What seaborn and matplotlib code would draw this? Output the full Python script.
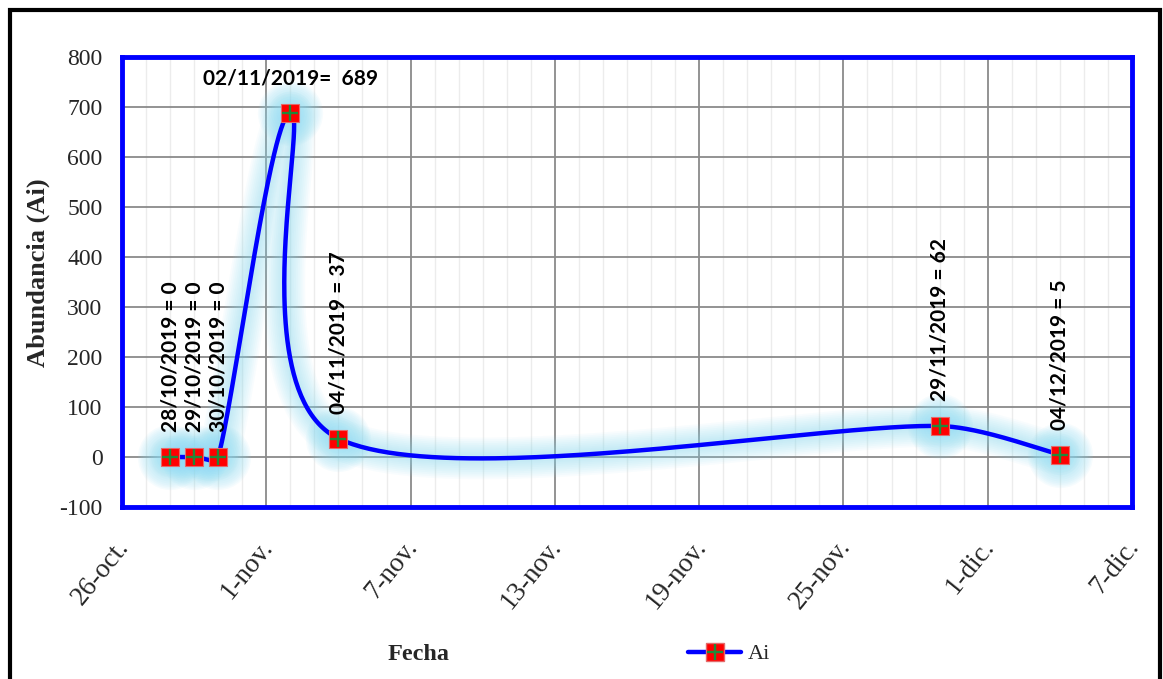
import numpy as np
import pandas as pd
import matplotlib
matplotlib.use("Agg")
import matplotlib.pyplot as plt
import matplotlib.dates as mdates
import matplotlib.transforms as mtrans
from matplotlib.patches import Rectangle
from matplotlib.lines import Line2D
from matplotlib.ticker import FixedLocator, MultipleLocator
import seaborn as sns

# ---------------- data ----------------
fechas = ["2019-10-28", "2019-10-29", "2019-10-30", "2019-11-02",
          "2019-11-04", "2019-11-29", "2019-12-04"]
ai = [0, 0, 0, 689, 37, 62, 5]
etiquetas = ["28/10/2019 = 0", "29/10/2019 = 0", "30/10/2019 = 0",
             "02/11/2019=  689", "04/11/2019 = 37", "29/11/2019 = 62",
             "04/12/2019 = 5"]
tick_fechas = ["2019-10-26", "2019-11-01", "2019-11-07", "2019-11-13",
               "2019-11-19", "2019-11-25", "2019-12-01", "2019-12-07"]
tick_labels = ["26-oct.", "1-nov.", "7-nov.", "13-nov.", "19-nov.",
               "25-nov.", "1-dic.", "7-dic."]
y_ticks = list(range(-100, 801, 100))

df = pd.DataFrame({"fecha": pd.to_datetime(fechas), "Ai": ai})
df["x"] = mdates.date2num(df["fecha"])
xt = mdates.date2num(pd.to_datetime(tick_fechas))
xmin, xmax = xt[0], xt[-1]
ymin, ymax = y_ticks[0], y_ticks[-1]

# axes box in pixels (used for the smoothing geometry)
AX_W, AX_H = 1010.0, 450.0


def excel_smooth(x, y, n=100, k=1/3):
    """Bezier smoothing like a spreadsheet 'smoothed line', computed in
    screen space, with control arms limited to k * chord length."""
    sx = AX_W / (xmax - xmin)
    sy = AX_H / (ymax - ymin)
    P = np.column_stack([(np.asarray(x) - xmin) * sx,
                         (np.asarray(y) - ymin) * sy]).astype(float)
    m = len(P)
    out = []
    t = np.linspace(0, 1, n)[:, None]

    def clamp(v, lim):
        L = np.hypot(*v)
        return v * (lim / L) if L > lim and L > 0 else v

    for i in range(m - 1):
        p0 = P[i - 1] if i > 0 else P[i]
        p1, p2 = P[i], P[i + 1]
        p3 = P[i + 2] if i + 2 < m else P[i + 1]
        chord = np.hypot(*(p2 - p1))
        c1 = p1 + clamp((p2 - p0) / 6.0, k * chord)
        c2 = p2 - clamp((p3 - p1) / 6.0, k * chord)
        seg = ((1 - t) ** 3) * p1 + 3 * ((1 - t) ** 2) * t * c1 \
            + 3 * (1 - t) * t ** 2 * c2 + t ** 3 * p2
        out.append(seg if i == 0 else seg[1:])
    C = np.vstack(out)
    return C[:, 0] / sx + xmin, C[:, 1] / sy + ymin


cx, cy = excel_smooth(df["x"].values, df["Ai"].values)
cdf = pd.DataFrame({"x": cx, "y": cy})

# ---------------- figure ----------------
sns.set_style("white")
SERIF = ["Liberation Serif", "DejaVu Serif"]
plt.rcParams["font.family"] = SERIF

fig = plt.figure(figsize=(11.63, 6.79), dpi=100)
ax = fig.add_axes([122 / 1163, 1 - 507 / 679, AX_W / 1163, AX_H / 679])

# soft glow
glow = "#8adcf4"
for lw in np.linspace(30, 6, 10):
    sns.lineplot(data=cdf, x="x", y="y", sort=False, estimator=None, ax=ax,
                 color=glow, lw=lw, alpha=0.06, solid_capstyle="round",
                 legend=False)
for s in np.linspace(2200, 400, 10):
    ax.scatter(df["x"], df["Ai"], s=s, color=glow, alpha=0.07, lw=0, zorder=2)

# main line
sns.lineplot(data=cdf, x="x", y="y", sort=False, estimator=None, ax=ax,
             color="#0000ff", lw=3.2, legend=False, zorder=3)
# markers
ax.plot(df["x"], df["Ai"], ls="none", marker="s", ms=13.5, mfc="#ff0000",
        mec="#e46a6a", mew=0.8, zorder=4)
ax.plot(df["x"], df["Ai"], ls="none", marker="+", ms=12, mec="#1f8a3a",
        mew=1.7, zorder=5)

# data labels
lab_font = dict(family=["Lato", "DejaVu Sans"], fontweight="bold", fontsize=15,
                color="black")
for xv, yv, lab in zip(df["x"], df["Ai"], etiquetas):
    if yv == max(ai):
        ax.annotate(lab, (xv, yv), xytext=(0, 17), textcoords="offset points",
                    ha="center", va="bottom", **lab_font)
    else:
        ax.annotate(lab, (xv, yv), xytext=(0, 18), textcoords="offset points",
                    ha="center", va="bottom", rotation=90, **lab_font)

# axes ranges / ticks
ax.set_xlim(xmin, xmax)
ax.set_ylim(ymin, ymax)
ax.xaxis.set_major_locator(FixedLocator(xt))
ax.xaxis.set_minor_locator(MultipleLocator(1))
ax.set_xticklabels(tick_labels)
ax.yaxis.set_major_locator(FixedLocator(y_ticks))
ax.set_yticklabels([str(v) for v in y_ticks])
ax.tick_params(axis="both", which="both", length=0)
ax.tick_params(axis="y", labelsize=17, pad=14)
ax.tick_params(axis="x", labelsize=19.5, pad=20)
off = mtrans.ScaledTranslation(12 / 100, 0, fig.dpi_scale_trans)
for lbl in ax.get_xticklabels():
    lbl.set_fontfamily(SERIF)
    lbl.set_rotation(51)
    lbl.set_ha("right")
    lbl.set_transform(lbl.get_transform() + off)
for lbl in ax.get_yticklabels():
    lbl.set_fontfamily(SERIF)

ax.grid(True, which="major", axis="both", color="#8a8a8a", lw=1.3)
ax.grid(True, which="minor", axis="x", color="#ececec", lw=1.0)
ax.set_axisbelow(True)
for sp in ax.spines.values():
    sp.set_visible(True)
    sp.set_color("#0000ff")
    sp.set_linewidth(3.5)

ax.set_xlabel("")
ax.set_ylabel("Abundancia (Ai)", fontsize=19, fontweight="bold", family=SERIF)
ax.yaxis.set_label_coords(-0.071, 0.52)

fig.text(419 / 1163, 1 - 655 / 679, "Fecha", fontsize=17.5, fontweight="bold",
         ha="center", va="center", family=SERIF)

# legend
h_line = Line2D([], [], color="#0000ff", lw=3.2, marker="s", ms=13,
                mfc="#ff0000", mec="#e46a6a")
h_plus = Line2D([], [], ls="none", marker="+", ms=11, mec="#1f8a3a", mew=1.7)
fig.legend([(h_line, h_plus)], ["Ai"], loc="center left",
           bbox_to_anchor=(668 / 1163, 1 - 654 / 679), frameon=False,
           prop=dict(family=SERIF, size=16), handlelength=2.4,
           handletextpad=0.3)

# outer frame
fig.add_artist(Rectangle((9.5 / 1163, -0.05), (1159.5 - 9.5) / 1163,
                         1.05 - 9.5 / 679, transform=fig.transFigure,
                         fill=False, ec="black", lw=3))

fig.savefig("out.png", dpi=100)
